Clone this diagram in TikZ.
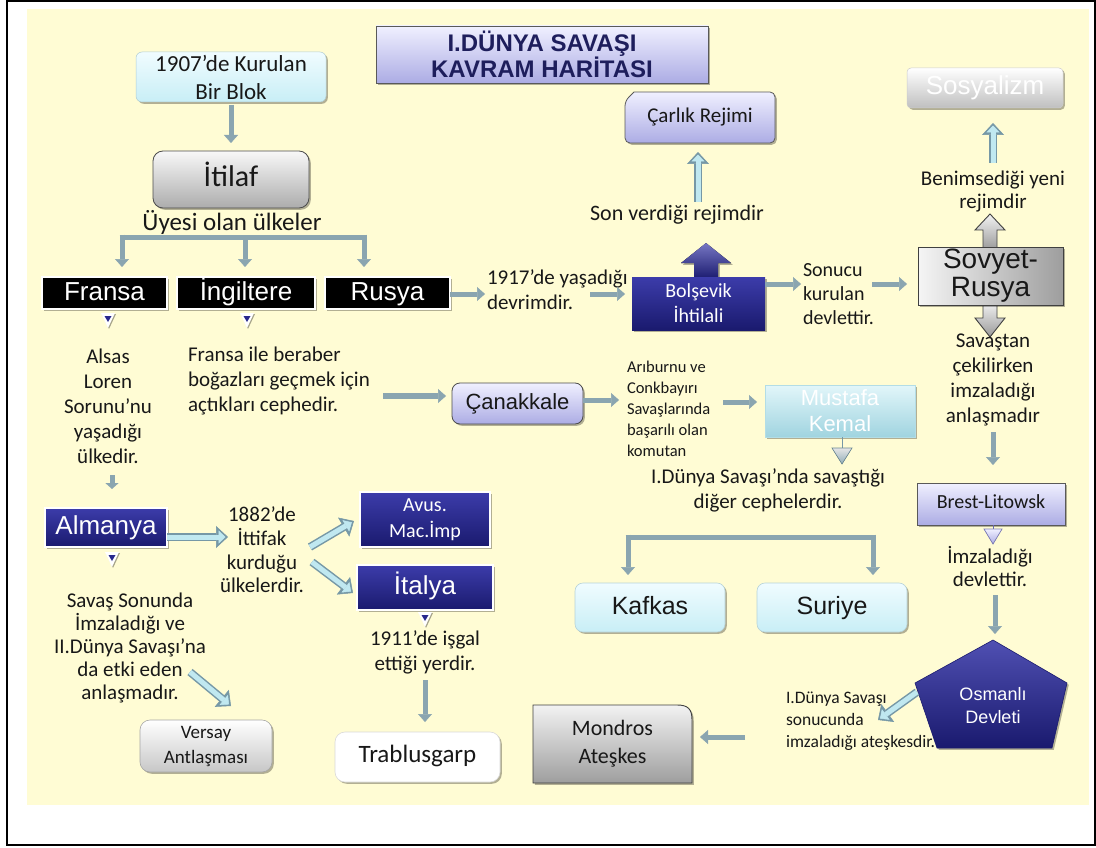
\documentclass[tikz,border=0pt]{standalone}
\usepackage{fontspec}
\setmainfont{Carlito}
\newfontfamily\arialf{Liberation Sans}
\usetikzlibrary{arrows.meta,shadows}
\definecolor{bgY}{RGB}{255,252,212}
\definecolor{arrC}{RGB}{138,165,176}
\definecolor{navyT}{RGB}{60,60,170}
\definecolor{navyB}{RGB}{26,26,110}
\definecolor{navyM}{RGB}{40,40,140}
\definecolor{lavT}{RGB}{240,240,255}
\definecolor{lavB}{RGB}{172,172,228}
\definecolor{cyT}{RGB}{240,252,255}
\definecolor{cyB}{RGB}{200,238,246}
\definecolor{cyO}{RGB}{118,152,166}
\definecolor{cyF}{RGB}{192,232,240}
\definecolor{mkT}{RGB}{226,246,250}
\definecolor{mkB}{RGB}{160,212,224}
\definecolor{grT}{RGB}{248,248,248}
\definecolor{grB}{RGB}{172,172,172}
\definecolor{titleC}{RGB}{30,30,92}
\definecolor{ink}{RGB}{24,24,24}
\newcommand\dmark[2]{%
  \fill[white, drop shadow={shadow xshift=1pt, shadow yshift=-1pt, opacity=0.35, fill=black}] (#1-7,#2) -- (#1+7,#2) -- (#1,#2+15) -- cycle;
  \fill[navyM] (#1-3.5,#2+3) -- (#1+3.5,#2+3) -- (#1,#2+9) -- cycle;}
\begin{document}
\begin{tikzpicture}[x=1pt,y=-1pt,
  every node/.style={inner sep=0pt, outer sep=0pt, align=center, text=ink},
  one/.style 2 args={text height=#1pt, text depth=#2pt},
  shd/.style={drop shadow={shadow xshift=1.8pt, shadow yshift=-1.8pt, opacity=0.3, fill=black}},
  navybox/.style={top color=navyT, bottom color=navyB, draw=white, line width=2.5pt, text=white, shd},
  blackbox/.style={fill=black, draw=white, line width=2.5pt, text=white, shd, one={19}{5}, font=\arialf\fontsize{26}{30}\selectfont},
  lavbox/.style={top color=lavT, bottom color=lavB, draw=black!65, line width=0.8pt, shd},
  cybox/.style={rounded corners=8pt, top color=cyT, bottom color=cyB, draw=cyB!75!gray, line width=0.6pt, shd, one={18}{5}},
  grbox/.style={top color=grT, bottom color=grB, draw=black!70, line width=0.8pt, shd},
  lbl/.style={font=\fontsize{21}{25}\selectfont},
  garr/.style={draw=arrC, line width=5pt, -{Triangle[width=14pt,length=8pt,line width=0.5pt]}},
  gline/.style={draw=arrC, line width=5pt},
  carr/.style={draw=cyF, line width=5pt, shorten >=2.5pt, -{Triangle[width=13pt,length=7pt,line width=0.5pt]},
     preaction={draw=cyO, line width=8pt, shorten >=0pt, -{Triangle[width=22pt,length=12pt,line width=0.5pt]}}}
]
\useasboundingbox (0,0) rectangle (1096,848);
\fill[white] (0,0) rectangle (1096,848);
\fill[bgY] (27,9) rectangle (1089,805);
\draw[line width=1.6pt] (7,0.8) rectangle (1095.2,845);

% ---------- title ----------
\node[lavbox, minimum width=332, minimum height=57, font=\arialf\bfseries\fontsize{24}{25}\selectfont, text=titleC] (title) at (542,54.5) {I.DÜNYA SAVAŞI\\KAVRAM HARİTASI};

% ---------- left column ----------
\node[rounded corners=6pt, top color=cyT, bottom color=cyB, draw=cyB!70!gray, line width=0.5pt, shd, minimum width=190, minimum height=50, font=\fontsize{23}{28}\selectfont] (blok) at (231,77) {1907’de Kurulan\\Bir Blok};
\node[rounded corners=10pt, grbox, one={20}{6}, minimum width=156, minimum height=57, font=\fontsize{30}{32}\selectfont] (itilaf) at (231,179.5) {İtilaf};
\draw[garr, shorten <=3pt, shorten >=8pt] (blok) -- (itilaf);
\node[font=\fontsize{25}{28}\selectfont] (uyesi) at (232,222) {Üyesi olan ülkeler};

\node[blackbox, minimum width=125, minimum height=32] (fransa) at (104.5,293) {Fransa};
\node[blackbox, minimum width=138, minimum height=32] (ingiltere) at (246,293) {İngiltere};
\node[blackbox, minimum width=125, minimum height=32] (rusya) at (387.5,293) {Rusya};

\coordinate (bL) at (122,237);
\coordinate (bM) at (245,237);
\coordinate (bR) at (364,237);
\draw[gline] ([xshift=-2.5pt]bL) -- ([xshift=2.5pt]bR);
\draw[garr, shorten >=10pt] ([yshift=2.5pt]bL) -- (bL |- fransa.north);
\draw[garr, shorten >=10pt] (bM) -- (bM |- ingiltere.north);
\draw[garr, shorten >=10pt] ([yshift=2.5pt]bR) -- (bR |- rusya.north);

\dmark{108}{313}
\dmark{247}{313}

\node[lbl] (alsas) at (108,406) {Alsas\\Loren\\Sorunu’nu\\yaşadığı\\ülkedir.};
\node[lbl, anchor=west, align=left] (frtext) at (188,381) {Fransa ile beraber\\boğazları geçmek için\\açtıkları cephedir.};

\node[navybox, one={19}{5}, minimum width=122, minimum height=39, font=\arialf\fontsize{26}{30}\selectfont] (almanya) at (106,527.5) {Almanya};
\coordinate (cUl) at (112,475);
\draw[garr, shorten >=19pt, -{Triangle[width=13pt,length=6pt]}] (cUl) -- (cUl |- almanya.north);
\dmark{112}{552}

\node[lbl, font=\fontsize{21}{22.8}\selectfont] (savas) at (130,648) {Savaş Sonunda\\İmzaladığı ve\\II.Dünya Savaşı’na\\da etki eden\\anlaşmadır.};
\node[rounded corners=10pt, top color=white, bottom color=black!22, draw=black!35, line width=0.6pt, shd, minimum width=132, minimum height=52, font=\fontsize{19}{25}\selectfont] (versay) at (206,746) {Versay\\Antlaşması};
\coordinate (cSv1) at (190,672);
\coordinate (cSv2) at (231,706);
\draw[carr] (cSv1) -- (cSv2);

\node[lbl, font=\fontsize{21}{23.7}\selectfont] (t1882) at (262,550) {1882’de\\İttifak\\kurduğu\\ülkelerdir.};
\coordinate (c1882) at (228,537);
\draw[carr] (almanya.east |- c1882) -- (c1882);

\node[navybox, minimum width=130, minimum height=55, font=\fontsize{20}{26}\selectfont] (avus) at (425,519.5) {Avus.\\Mac.İmp};
\node[navybox, one={19}{5}, minimum width=136, minimum height=45, font=\arialf\fontsize{26}{30}\selectfont] (italya) at (425,587.5) {İtalya};
\coordinate (c18a) at (310,547);
\coordinate (c18b) at (354,521);
\coordinate (c18c) at (312,562);
\coordinate (c18d) at (353,593);
\draw[carr] (c18a) -- (c18b);
\draw[carr] (c18c) -- (c18d);
\dmark{425}{612}
\node[lbl] (t1911) at (425,652.5) {1911’de işgal\\ettiği yerdir.};
\node[rounded corners=10pt, fill=white, draw=black!15, line width=0.6pt, shd, one={16}{6}, minimum width=165, minimum height=50, font=\fontsize{25}{28}\selectfont] (trablus) at (417.5,757) {Trablusgarp};
\coordinate (c1911) at (425,680);
\draw[garr, shorten >=10pt] (c1911) -- (c1911 |- trablus.north);

% ---------- middle ----------
\node[lbl, anchor=west, align=left] (t1917) at (487,289.5) {1917’de yaşadığı\\devrimdir.};
\draw[garr, shorten >=2pt] (rusya.east |- 0,294) -- (t1917.west |- 0,294);
\fill[top color=navyT!70!white, bottom color=navyB, shd] (694,279) -- (694,263) -- (681,263) -- (706,243) -- (731,263) -- (718,263) -- (718,279) -- cycle;
\node[navybox, line width=0pt, draw=none, minimum width=133, minimum height=53, font=\fontsize{20}{25}\selectfont] (bolsevik) at (698.5,303.5) {Bolşevik\\İhtilali};
\coordinate (c1917b) at (590,294);
\draw[garr, shorten >=7pt] (c1917b) -- (bolsevik.west |- c1917b);

\node[font=\fontsize{22}{25}\selectfont] (sonverdi) at (677,215) {Son verdiği rejimdir};
\path[top color=lavT, bottom color=lavB, draw=black!65, line width=0.8pt, shd, rounded corners=5pt] (625,143) -- (625,101) [sharp corners] -- (634,92) [rounded corners=5pt] -- (775,92) -- (775,143) -- cycle;
\node[one={14}{4}, font=\fontsize{21}{25}\selectfont] (carlik) at (700,118) {Çarlık Rejimi};
\coordinate (cSV) at (698,202);
\draw[carr] (cSV) -- (cSV |- 0,152);

\node[lbl, anchor=west, align=left, font=\fontsize{20}{24}\selectfont] (sonucu) at (803,294) {Sonucu\\kurulan\\devlettir.};
\coordinate (cS1) at (802,284);
\draw[garr, shorten >=1pt] (bolsevik.east |- cS1) -- (cS1);
\coordinate (cS2) at (872,284);

% ---------- Çanakkale row ----------
\node[rounded corners=8pt, top color=lavT, bottom color=lavB, draw=black!70, line width=0.8pt, shd, one={16}{4}, minimum width=131, minimum height=41, font=\arialf\fontsize{22}{25}\selectfont] (canakkale) at (517.5,403.5) {Çanakkale};
\coordinate (cFr) at (383,396);
\draw[garr, line width=6pt, shorten >=6pt] (cFr) -- (canakkale.west |- cFr);
\node[anchor=west, align=left, font=\fontsize{16.5}{21}\selectfont] (aribu) at (627,408.5) {Arıburnu ve\\Conkbayırı\\Savaşlarında\\başarılı olan\\komutan};
\coordinate (cAri) at (620,400);
\draw[garr, shorten >=1pt] (canakkale.east |- cAri) -- (cAri);
\node[top color=mkT, bottom color=mkB, draw=mkB!80!white, line width=0.4pt, shd, minimum width=150, minimum height=52, text=white, font=\arialf\fontsize{22}{26}\selectfont] (mkemal) at (840,411) {Mustafa\\Kemal};
\coordinate (cAri2) at (723,402);
\draw[garr, shorten >=8pt] (cAri2) -- (mkemal.west |- cAri2);
\draw[draw=cyO, line width=1pt] (mkemal.south -| 842,0) -- (842,448);
\fill[top color=black!10, bottom color=cyO!80!white, draw=cyO!90!black, line width=0.6pt] (832,448) -- (852,448) -- (842,464) -- cycle;

\node[lbl] (ceph) at (768,490.5) {I.Dünya Savaşı’nda savaştığı\\diğer cephelerdir.};
\node[cybox, minimum width=150, minimum height=49, font=\arialf\fontsize{25}{28}\selectfont] (kafkas) at (650,607.5) {Kafkas};
\node[cybox, minimum width=150, minimum height=49, font=\arialf\fontsize{25}{28}\selectfont] (suriye) at (832,607.5) {Suriye};
\coordinate (k1) at (628,537);
\coordinate (k2) at (873,537);
\draw[gline] ([xshift=-2.5pt]k1) -- ([xshift=2.5pt]k2);
\draw[garr, shorten >=8pt] ([yshift=2.5pt]k1) -- (k1 |- kafkas.north);
\draw[garr, shorten >=8pt] ([yshift=2.5pt]k2) -- (k2 |- suriye.north);

% ---------- right column ----------
\node[rounded corners=4pt, top color=white, bottom color=black!25, draw=black!20, line width=0.5pt, shd, one={19}{5}, minimum width=156, minimum height=40, text=white, font=\arialf\fontsize{26}{28}\selectfont] (sosyal) at (985,88) {Sosyalizm};
\node[lbl, font=\fontsize{21}{23}\selectfont] (benim) at (993,191.5) {Benimsediği yeni\\rejimdir};
\coordinate (cBen) at (993,163);
\draw[carr] (cBen) -- (cBen |- 0,123);

\path[top color=black!5, bottom color=black!40, draw=black!75, line width=0.9pt] (983,250) -- (983,230) -- (975,230) -- (990,214) -- (1005,230) -- (997,230) -- (997,250) -- cycle;
\path[top color=black!5, bottom color=black!40, draw=black!75, line width=0.9pt] (983,302) -- (983,318) -- (975,318) -- (990,337) -- (1005,318) -- (997,318) -- (997,302) -- cycle;
\node[left color=black!4, right color=black!38, draw=black!75, line width=0.9pt, shd, minimum width=145, minimum height=58, font=\arialf\fontsize{28}{28}\selectfont] (sovyet) at (990.5,276) {Sovyet-\\Rusya};
\draw[garr, shorten >=11pt] (cS2) -- (sovyet.west |- cS2);

\node[lbl] (savastan) at (993,380) {Savaştan\\çekilirken\\imzaladığı\\anlaşmadır};
\node[lavbox, one={13}{4}, minimum width=148, minimum height=42, font=\fontsize{20}{24}\selectfont] (brest) at (991,504) {Brest-Litowsk};
\coordinate (cSav) at (993,432);
\draw[garr, shorten >=18pt] (cSav) -- (cSav |- brest.north);
\draw[draw=navyM!70, line width=1pt] (993,525) -- (993,529);
\fill[top color=lavT, bottom color=lavB, draw=navyM!60, line width=0.7pt] (984,529) -- (1002,529) -- (993,544) -- cycle;
\node[lbl, font=\fontsize{21}{23}\selectfont] (imzal) at (990,566.5) {İmzaladığı\\devlettir.};

\node[lbl, anchor=west, align=left, font=\fontsize{17.5}{22}\selectfont] (ateskes) at (786,721.5) {I.Dünya Savaşı\\sonucunda\\imzaladığı ateşkesdir.};
\path[top color=navyT!90!white, bottom color=navyB, draw=navyB, line width=0.6pt, shd] (993,640) -- (1067,683) -- (1052,748) -- (937,748) -- (915,683) -- cycle;
\node[text=white, font=\arialf\fontsize{18}{23}\selectfont] (osmanli) at (993,706) {Osmanlı\\Devleti};
\coordinate (cImz) at (995,595);
\draw[garr, shorten >=6pt] (cImz) -- (cImz |- 0,640);
\coordinate (cO1) at (917,692);
\coordinate (cO2) at (878,720);
\draw[carr] (cO1) -- (cO2);

\path[top color=black!5, bottom color=black!38, draw=black!75, line width=0.9pt, shd] (533,705) -- (677,705) .. controls (688,705) and (692,709) .. (692,720) -- (692,783) -- (533,783) -- cycle;
\node[font=\fontsize{22}{28}\selectfont] (mondros) at (612.5,744) {Mondros\\Ateşkes};
\coordinate (cAt) at (745,737);
\draw[garr, shorten >=8pt] (cAt) -- (692,737);
\end{tikzpicture}
\end{document}
